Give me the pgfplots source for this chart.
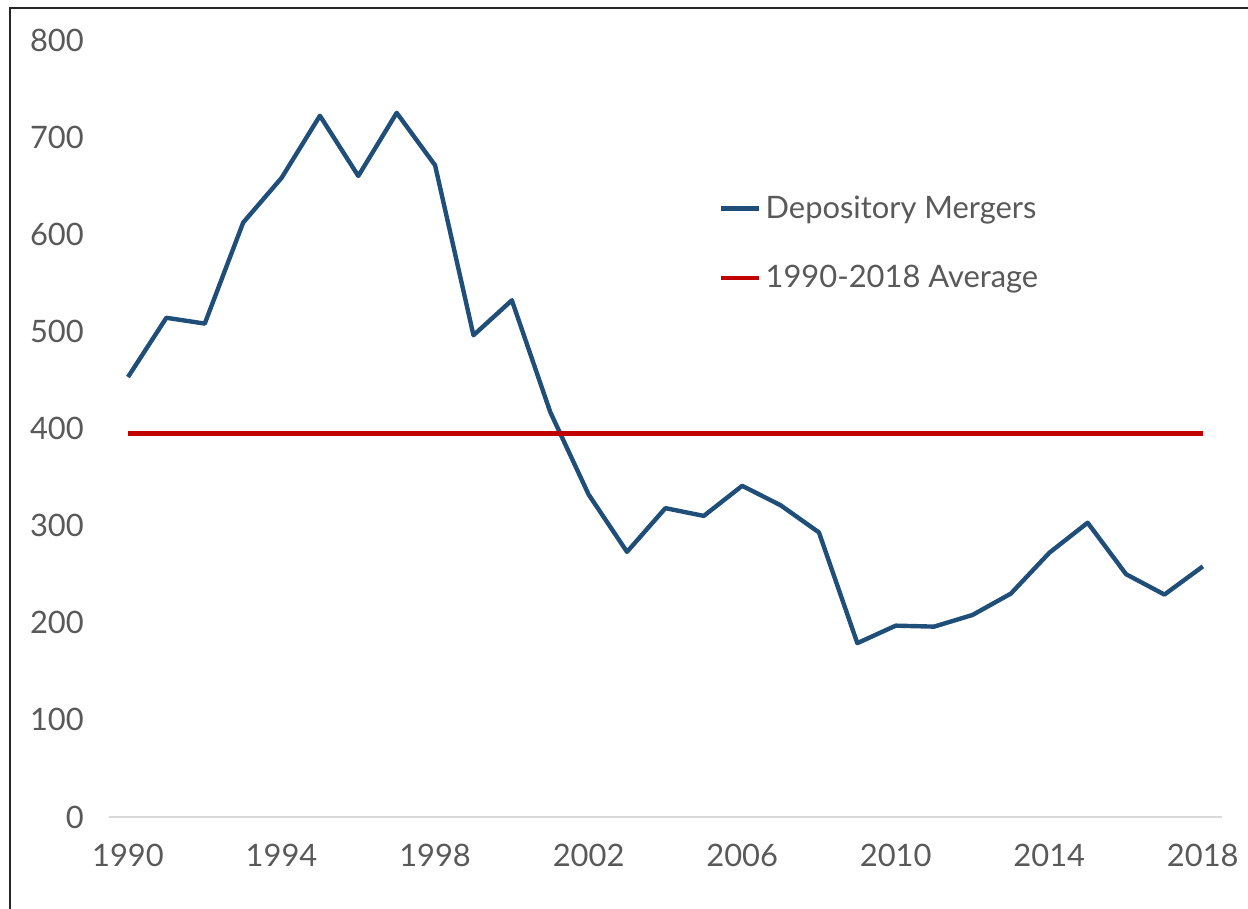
\documentclass[border=0pt]{standalone}
\usepackage{pgfplots}
\pgfplotsset{compat=1.18}
\usepackage{fontspec}
\setmainfont{Lato}
\definecolor{mblue}{HTML}{1F4E79}
\definecolor{mred}{HTML}{C00000}
\definecolor{tgray}{HTML}{595959}
\definecolor{agray}{HTML}{D9D9D9}
\begin{document}
\begin{tikzpicture}
\path[use as bounding box] (-54.4bp,-46bp) rectangle (569.6bp,408.5bp);
\draw[line width=1bp, black!85] (-49.4bp,-46bp) -- (-49.4bp,404.5bp) -- (569.6bp,404.5bp);
\begin{axis}[
  at={(0,0)}, anchor=south west,
  scale only axis,
  width=556.6bp, height=388.5bp,
  xmin=1989.5, xmax=2018.5,
  ymin=0, ymax=800,
  xtick={1990,1994,...,2018},
  ytick={0,100,...,800},
  x tick label style={/pgf/number format/1000 sep={}},
  /pgf/number format/assume math mode=true,
  tick label style={font=\fontsize{15.5}{19}\selectfont, text=tgray},
  major tick length=0pt,
  axis y line*=left,
  axis x line*=bottom,
  y axis line style={draw=none},
  x axis line style={agray, line width=0.8bp, -},
  xticklabel shift=10bp,
  yticklabel shift=9bp,
  clip=false,
  legend style={draw=none, fill=none, at={(0.548,0.805)}, anchor=north west,
    font=\fontsize{15.5}{19}\selectfont, text=tgray, row sep=18bp,
    inner sep=0pt, cells={anchor=west}},
  legend image code/.code={\draw[#1] (0bp,0bp) -- (19bp,0bp);},
]
\addplot[mblue, line width=2.2bp, line join=round] coordinates {
(1990,453) (1991,514) (1992,508) (1993,612) (1994,658) (1995,722)
(1996,660) (1997,725) (1998,671) (1999,496) (2000,532) (2001,417)
(2002,332) (2003,273) (2004,318) (2005,310) (2006,341) (2007,321)
(2008,293) (2009,179) (2010,197) (2011,196) (2012,208) (2013,230)
(2014,272) (2015,303) (2016,250) (2017,229) (2018,258)
};
\addlegendentry{Depository Mergers}
\addplot[mred, line width=2.2bp] coordinates {(1990,395) (2018,395)};
\addlegendentry{1990-2018 Average}
\end{axis}
\end{tikzpicture}
\end{document}
